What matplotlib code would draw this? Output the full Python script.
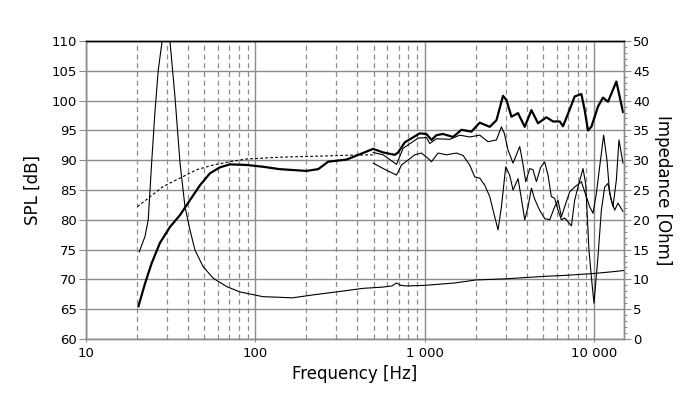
import numpy as np
import matplotlib
matplotlib.use("Agg")
import matplotlib.pyplot as plt
from matplotlib.ticker import FixedLocator, NullFormatter, MultipleLocator

# ---- data ----
# impedance (thin line, right axis)
imp_f = [20.6, 22.3, 23.3, 24.4, 25.5, 26.7, 28.2, 29.3, 30.0, 30.7, 31.3, 33.5, 35.9,
         38.4, 41.1, 44.0, 49.2, 56.4, 67.6, 81.0, 111, 139, 165, 219, 300, 433, 560,
         640, 681, 720, 780, 1000, 1500, 2000, 3000, 5000, 7000, 10000, 13000, 15000]
imp_z = [14.6, 17.2, 20.0, 29.5, 37.9, 45.1, 50.2, 54.5, 56.0, 54.0, 50.0, 40.7, 29.5,
         22.2, 18.3, 14.9, 12.1, 10.2, 8.8, 7.9, 7.1, 7.0, 6.9, 7.4, 7.9, 8.5, 8.7,
         8.9, 9.4, 9.0, 8.9, 9.0, 9.4, 9.9, 10.1, 10.5, 10.7, 11.0, 11.3, 11.5]

# on-axis SPL (thick line)
spl_f = [20.4, 22.3, 24.4, 27.3, 31.3, 35.9, 41.1, 47.1, 53.9, 61.7, 70.7, 88.7, 111,
         139, 200, 235, 269, 345, 414, 496, 568, 665, 696, 762, 934, 1023, 1095, 1172,
         1282, 1469, 1647, 1886, 2111, 2418, 2649, 2897, 3034, 3248, 3553, 3890, 4262,
         4662, 5224, 5715, 6259, 6546, 7170, 7674, 8405, 8790, 9194, 9627, 10530, 11270,
         12070, 13520, 14130, 14790]
spl_db = [65.5, 69.3, 72.7, 76.1, 78.8, 80.8, 83.3, 85.8, 87.8, 88.8, 89.3, 89.2, 88.9,
          88.5, 88.2, 88.5, 89.75, 90.1, 91.0, 91.9, 91.3, 90.9, 91.3, 93.0, 94.5, 94.4,
          93.4, 94.2, 94.4, 93.9, 95.1, 94.8, 96.3, 95.6, 96.7, 100.8, 100.1, 97.3, 97.9,
          95.6, 98.4, 96.2, 97.2, 96.5, 96.5, 95.7, 98.5, 100.7, 101.1, 98.4, 95.0, 95.6,
          99.0, 100.5, 99.8, 103.2, 100.7, 98.1]

# first off-axis curve (thin, upper)
off1_f = [496, 568, 681, 745, 913, 1023, 1070, 1172, 1405, 1609, 1841, 2111, 2363, 2649,
          2835, 2950, 3101, 3319, 3635, 3790, 3945, 4165, 4355, 4560, 4830, 5105, 5340,
          5585, 5848, 6117, 6405, 6699, 7337, 7674, 8024, 8590, 8913, 9318, 9627, 9973,
          10530, 11026, 11535, 12064, 12634, 13213, 13820, 14790]
off1_db = [91.3, 90.9, 89.3, 92.0, 93.7, 93.8, 92.8, 93.6, 93.5, 94.2, 93.9, 94.2, 93.1,
           93.4, 95.6, 94.5, 91.7, 89.5, 92.3, 89.5, 86.4, 88.6, 88.4, 86.4, 88.8, 89.7,
           87.5, 83.9, 83.6, 81.6, 80.0, 80.3, 79.0, 83.3, 85.5, 88.6, 86.0, 74.9, 70.4,
           66.0, 73.8, 81.6, 85.5, 86.1, 83.3, 81.6, 82.8, 81.4]

# second off-axis curve (thin, lower)
off2_f = [496, 568, 681, 729, 873, 956, 1046, 1095, 1198, 1343, 1538, 1683, 1841, 1972,
          2111, 2259, 2418, 2588, 2707, 2835, 3006, 3170, 3319, 3553, 3720, 3890, 4060,
          4262, 4450, 4766, 5105, 5463, 5848, 6117, 6405, 6699, 7170, 7674, 8405, 8790,
          9408, 9840, 10300, 10776, 11376, 11900, 12345, 12912, 13520, 14010, 14790]
off2_db = [89.5, 88.6, 87.5, 89.2, 90.9, 91.2, 90.3, 89.75, 91.2, 90.9, 91.2, 90.8, 89.2,
           87.2, 87.0, 85.8, 83.9, 80.5, 78.3, 82.2, 88.9, 87.5, 85.0, 86.9, 83.5, 80.0,
           82.0, 85.3, 83.5, 81.6, 80.2, 80.0, 82.2, 83.3, 80.5, 82.2, 84.7, 85.5, 86.4,
           84.7, 82.2, 81.1, 84.4, 88.9, 94.2, 90.0, 84.4, 82.2, 86.7, 93.4, 89.5]

# low-frequency response (dashed)
lf_f = [20.1, 28.6, 35.9, 45.0, 56.4, 70.7, 88.7, 139, 250, 370, 493]
lf_db = [82.2, 85.6, 87.0, 88.4, 89.2, 89.75, 90.2, 90.5, 90.7, 90.85, 90.9]

xticks = [10, 100, 1000, 10000]
xticklabels = ["10", "100", "1 000", "10 000"]

# ---- figure ----
grid_col = "#8c8c8c"
fig = plt.figure(figsize=(7, 3.99), dpi=100)
ax = fig.add_axes([86 / 700, 60 / 399, 538 / 700, 298 / 399])
ax.set_xscale("log")
ax.set_xlim(10, 15000)
ax.set_ylim(60, 110)

ax.xaxis.set_major_locator(FixedLocator(xticks))
ax.set_xticklabels(xticklabels)
minors = [m * d for d in (10, 100, 1000) for m in range(2, 10) if m * d < 15000]
ax.xaxis.set_minor_locator(FixedLocator(minors))
ax.xaxis.set_minor_formatter(NullFormatter())
ax.yaxis.set_major_locator(MultipleLocator(5))

ax.set_axisbelow(True)
ax.grid(which="major", color=grid_col, lw=1.0, ls="-")
ax.grid(which="minor", axis="x", color=grid_col, lw=0.9, ls=(0, (4, 3)))

ax.plot(lf_f, lf_db, color="black", lw=0.8, ls=(0, (2.5, 2)))
ax.plot(off2_f, off2_db, color="black", lw=0.8)
ax.plot(off1_f, off1_db, color="black", lw=0.8)
ax.plot(spl_f, spl_db, color="black", lw=1.6)

ax2 = ax.twinx()
ax2.set_ylim(0, 50)
ax2.yaxis.set_major_locator(MultipleLocator(5))
ax2.yaxis.set_minor_locator(MultipleLocator(1))
ax2.plot(imp_f, imp_z, color="black", lw=0.8)

for a in (ax, ax2):
    for s in a.spines.values():
        s.set_color(grid_col)
        s.set_linewidth(1.0)
    a.spines["top"].set_color("black")

ax.tick_params(axis="y", which="major", length=5, width=0.8, color=grid_col,
               labelsize=9.5, pad=1.5)
ax.tick_params(axis="x", which="major", length=2.5, width=0.8, color=grid_col,
               labelsize=9.5, pad=3)
ax.tick_params(axis="x", which="minor", length=0)
ax2.tick_params(axis="y", which="major", length=5, width=0.8, color=grid_col,
                labelsize=9.5, pad=1.5)
ax2.tick_params(axis="y", which="minor", length=2.5, width=0.8, color=grid_col)

ax.set_xlabel("Frequency [Hz]", fontsize=12, labelpad=4)
ax.set_ylabel("SPL [dB]", fontsize=12, labelpad=7)
ax2.set_ylabel("Impedance [Ohm]", fontsize=12, rotation=270, labelpad=16)

fig.savefig("out.png", dpi=100)
